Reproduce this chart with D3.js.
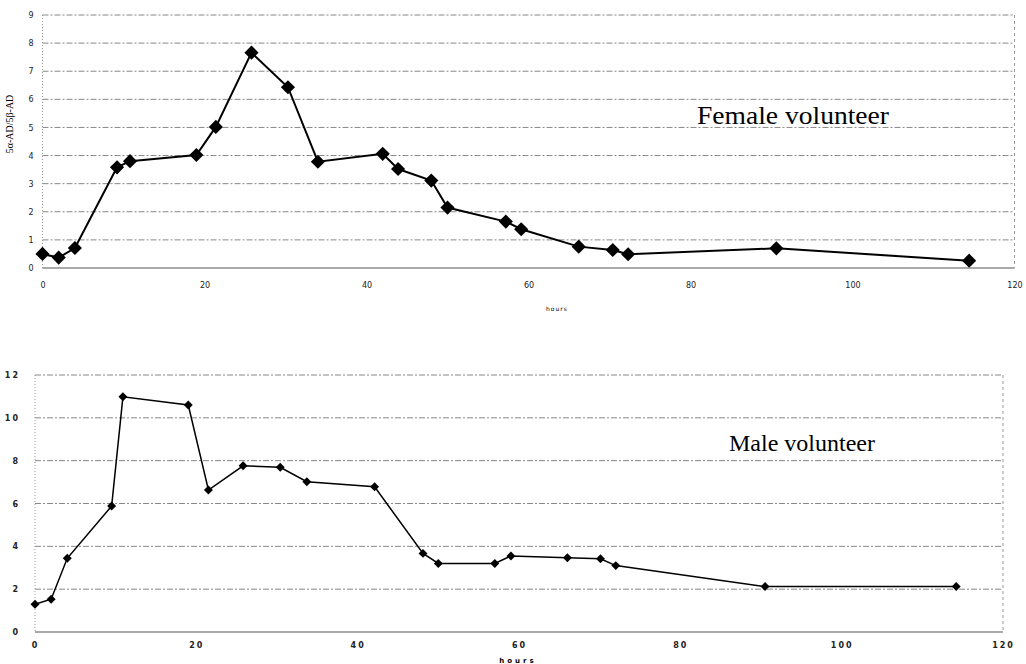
<!DOCTYPE html>
<html>
<head>
<meta charset="utf-8">
<script src="https://cdn.jsdelivr.net/npm/d3@7"></script>
<style>
  body { margin: 0; background: #fff; }
  .tick text { font-family: "DejaVu Sans", sans-serif; fill: #222; }
</style>
</head>
<body>
<div id="chart-area"></div>
<script>
// values
const femaleHours = [0, 2, 4, 9.2, 10.8, 19, 21.4, 25.8, 30.3, 34, 42, 43.9, 48, 50, 57.2, 59.1, 66.2, 70.4, 72.3, 90.6, 114.4];
const femaleRatio = [0.5, 0.37, 0.71, 3.58, 3.8, 4.02, 5.02, 7.66, 6.43, 3.78, 4.06, 3.52, 3.11, 2.15, 1.65, 1.38, 0.76, 0.64, 0.49, 0.7, 0.26];
const maleHours = [0, 2, 4, 9.5, 10.9, 19, 21.5, 25.8, 30.4, 33.7, 42.1, 48.1, 50, 57, 59, 66, 70.1, 72, 90.5, 114.2];
const maleRatio = [1.3, 1.53, 3.44, 5.88, 10.98, 10.6, 6.63, 7.76, 7.69, 7.02, 6.78, 3.67, 3.2, 3.2, 3.55, 3.47, 3.42, 3.1, 2.12, 2.12];
const hourTicks = [0, 20, 40, 60, 80, 100, 120];
const femaleTicks = [0, 1, 2, 3, 4, 5, 6, 7, 8, 9];
const maleTicks = [0, 2, 4, 6, 8, 10, 12];

let svg = d3.select("#chart-area").append("svg")
	.attr("width", 1026)
	.attr("height", 664);

function panel(o) {
	let x = d3.scaleLinear().domain([0, 120]).range([o.left, o.right]);
	let y = d3.scaleLinear().domain([0, o.ymax]).range([o.bottom, o.top]);
	let g = svg.append("g");

	// horizontal grid
	g.selectAll("line.grid").data(o.yTicks).enter()
		.append("line")
		.attr("x1", o.left).attr("x2", o.right)
		.attr("y1", (d) => y(d)).attr("y2", (d) => y(d))
		.attr("stroke", (d) => d == 0 ? "#555" : "#888")
		.attr("stroke-width", 1)
		.attr("stroke-dasharray", (d) => d == 0 ? null : "6,2,2,2");

	// left and right borders
	g.append("line")
		.attr("x1", o.left).attr("x2", o.left)
		.attr("y1", o.top).attr("y2", o.bottom)
		.attr("stroke", "#999").attr("stroke-dasharray", "1,2");
	g.append("line")
		.attr("x1", o.right).attr("x2", o.right)
		.attr("y1", o.top).attr("y2", o.bottom)
		.attr("stroke", "#999").attr("stroke-dasharray", "3,3");

	let yAxis = g.append("g")
		.attr("transform", "translate(" + o.left + ",0)")
		.call(d3.axisLeft(y).tickValues(o.yTicks).tickSize(0).tickPadding(o.yPad));
	yAxis.select(".domain").remove();
	yAxis.selectAll("text")
		.style("font-size", o.tickFont + "px")
		.style("letter-spacing", o.spacing + "px")
		.style("font-weight", o.bold ? "bold" : "normal");

	let xAxis = g.append("g")
		.attr("transform", "translate(0," + o.bottom + ")")
		.call(d3.axisBottom(x).tickValues(hourTicks).tickSize(0).tickPadding(o.xPad));
	xAxis.select(".domain").remove();
	xAxis.selectAll("text")
		.style("font-size", o.tickFont + "px")
		.style("letter-spacing", o.spacing + "px")
		.style("font-weight", o.bold ? "bold" : "normal");

	g.append("text")
		.attr("x", o.hoursX).attr("y", o.hoursY)
		.attr("text-anchor", "middle")
		.style("font-family", "DejaVu Sans, sans-serif")
		.style("font-size", o.hoursFont + "px")
		.style("letter-spacing", o.hoursSpacing + "px")
		.style("font-weight", o.bold ? "bold" : "normal")
		.text("hours");

	let pts = o.hours.map((h, i) => [h, o.values[i]]);
	let line = d3.line().x((d) => x(d[0])).y((d) => y(d[1]));
	g.append("path")
		.attr("d", line(pts))
		.attr("fill", "none")
		.attr("stroke", "#000")
		.attr("stroke-width", o.lineWidth);

	let sym = d3.symbol().type(d3.symbolSquare).size(o.markSize);
	g.selectAll("path.mark").data(pts).enter()
		.append("path")
		.attr("d", sym)
		.attr("transform", (d) => "translate(" + x(d[0]) + "," + y(d[1]) + ") rotate(45)")
		.attr("fill", "#000");

	g.append("text")
		.attr("x", o.labelX).attr("y", o.labelY)
		.style("font-family", "Liberation Serif, Times New Roman, serif")
		.style("font-size", o.labelFont + "px")
		.attr("textLength", o.labelLen)
		.attr("lengthAdjust", "spacingAndGlyphs")
		.text(o.label);
	return g;
}

panel({
	left: 42.5, right: 1014.5, top: 15, bottom: 268, ymax: 9,
	yTicks: femaleTicks, hours: femaleHours, values: femaleRatio,
	yPad: 9, xPad: 14, tickFont: 8, spacing: 0, bold: false,
	hoursX: 557, hoursY: 311, hoursFont: 6, hoursSpacing: 1,
	lineWidth: 2, markSize: 100,
	label: "Female volunteer", labelX: 697, labelY: 124, labelLen: 192, labelFont: 25
});

panel({
	left: 35, right: 1003, top: 375, bottom: 632, ymax: 12,
	yTicks: maleTicks, hours: maleHours, values: maleRatio,
	yPad: 15, xPad: 10, tickFont: 8, spacing: 2, bold: true,
	hoursX: 518, hoursY: 663, hoursFont: 7, hoursSpacing: 3,
	lineWidth: 1.5, markSize: 40,
	label: "Male volunteer", labelX: 729, labelY: 451, labelLen: 146, labelFont: 24
});

// y label of the upper panel
svg.append("text")
	.attr("transform", "translate(13,124) rotate(-90)")
	.attr("text-anchor", "middle")
	.style("font-family", "Liberation Serif, serif")
	.style("font-size", "10px")
	.text("5α-AD/5β-AD");
</script>
</body>
</html>
